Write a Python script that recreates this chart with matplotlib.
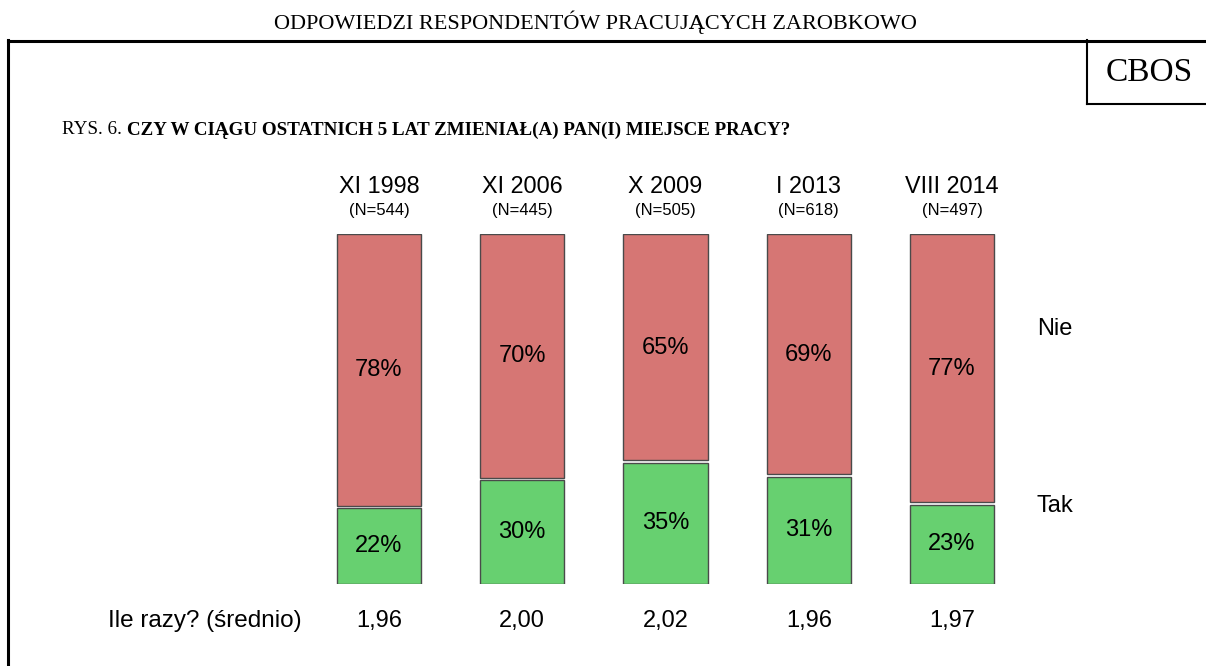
import matplotlib.pyplot as plt
from matplotlib.lines import Line2D

# data
waves = ["XI 1998", "XI 2006", "X 2009", "I 2013", "VIII 2014"]
n_resp = [544, 445, 505, 618, 497]
tak = [22, 30, 35, 31, 23]
nie = [78, 70, 65, 69, 77]
avg_times = ["1,96", "2,00", "2,02", "1,96", "1,97"]

W, H = 1206, 666
red = "#D67674"
green = "#67D070"
edge = "#4a4a4a"
sans = "Liberation Sans"
serif = "Liberation Serif"

fig = plt.figure(figsize=(W / 100, H / 100), dpi=100)


def fx(x):
    return x / W


def fy(y):
    return 1 - y / H


# outer frame and CBOS box
for xs, ys, lw in [([8, 8], [40, H + 5], 2.2),
                   ([8, W], [41, 41], 2.2),
                   ([1087, 1087], [40, 104], 1.5),
                   ([1087, W], [104, 104], 1.5)]:
    fig.add_artist(Line2D([fx(v) for v in xs], [fy(v) for v in ys],
                          color="black", lw=lw, transform=fig.transFigure))

fig.text(fx(595), fy(22), "ODPOWIEDZI RESPONDENTÓW PRACUJĄCYCH ZAROBKOWO",
         family=serif, fontsize=16, ha="center", va="center")
fig.text(fx(1149), fy(73), "CBOS", family=serif, fontsize=24,
         ha="center", va="center")
t = fig.text(fx(62), fy(130), "RYS. 6. ", family=serif, fontsize=13.7,
             ha="left", va="center")
fig.canvas.draw()
bb = t.get_window_extent()
fig.text(bb.x1 / W, fy(130), "CZY W CIĄGU OSTATNICH 5 LAT ZMIENIAŁ(A) PAN(I) MIEJSCE PRACY?",
         family=serif, fontsize=13.7, fontweight="bold", ha="left", va="center")

# bar axes: bar centres at 379..952 px, bars from y=234 to y=584 px
step = (952 - 379) / 4
left = 379 - step / 2
ax = fig.add_axes([fx(left), fy(584), 5 * step / W, 350 / H])
ax.set_xlim(-0.5, 4.5)
ax.set_ylim(0, 100)
ax.axis("off")

x = range(len(waves))
gap = 0.6
ax.bar(x, [v - gap / 2 for v in tak], width=0.587, color=green,
       edgecolor=edge, linewidth=1)
ax.bar(x, [v - gap / 2 for v in nie], bottom=[v + gap / 2 for v in tak],
       width=0.587, color=red, edgecolor=edge, linewidth=1)

for i in x:
    ax.text(i, tak[i] / 2, f"{tak[i]}%", ha="center", va="center",
            family=sans, fontsize=17)
    ax.text(i, tak[i] + nie[i] / 2, f"{nie[i]}%", ha="center", va="center",
            family=sans, fontsize=17)
    ax.text(i, 113.7, waves[i], ha="center", va="center", family=sans,
            fontsize=16.8, clip_on=False)
    ax.text(i, 106.6, f"(N={n_resp[i]})", ha="center", va="center",
            family=sans, fontsize=12, clip_on=False)
    ax.text(i, -10.6, avg_times[i], ha="center", va="center", family=sans,
            fontsize=17, clip_on=False)

ax.text(4.593, 72.9, "Nie", ha="left", va="center", family=sans,
        fontsize=17, clip_on=False)
ax.text(4.593, 22.3, "Tak", ha="left", va="center", family=sans,
        fontsize=17, clip_on=False)
ax.text(-0.538, -10.6, "Ile razy? (średnio)", ha="right", va="center",
        family=sans, fontsize=17.5, clip_on=False)

fig.savefig("out.png", dpi=100)
